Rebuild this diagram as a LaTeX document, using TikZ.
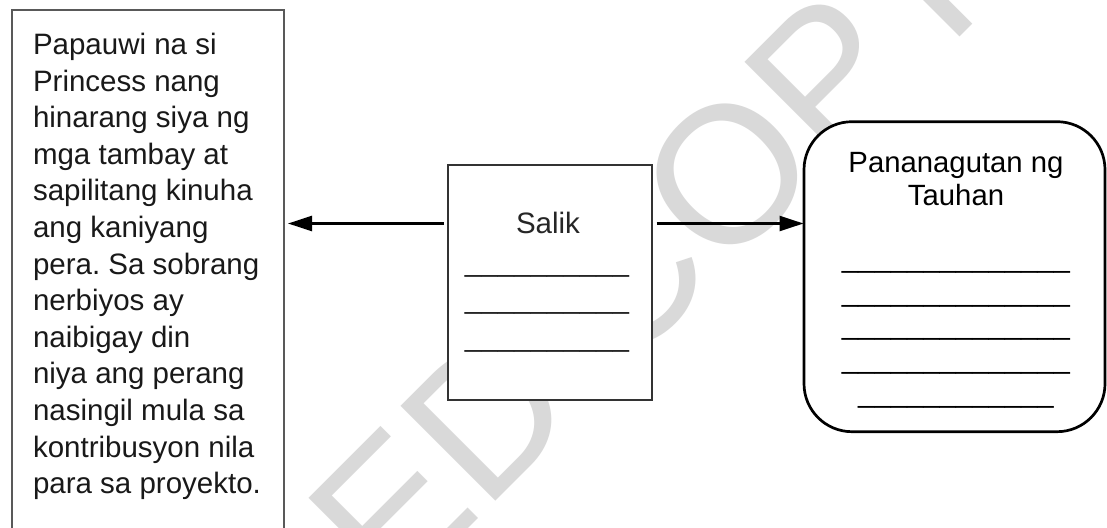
\documentclass[tikz,border=0pt]{standalone}
\usepackage{fontspec}
\setmainfont{Liberation Sans}
\usetikzlibrary{arrows.meta}
\frenchspacing
\begin{document}
\begin{tikzpicture}[x=1pt,y=-1pt,
  txt/.style={font=\fontsize{29.5}{36.6}\selectfont, inner sep=0pt, outer sep=0pt},
  wm/.style={font=\fontsize{195}{195}\selectfont, text=black!15, inner sep=0pt},
  boxstyle/.style={fill=white, inner sep=0pt, outer sep=0pt, anchor=north west},
  arr/.style={line width=2.5pt, -{Triangle[length=24pt,width=15pt]}},
]
\useasboundingbox (0,0) rectangle (1107,527);
\clip (0,0) rectangle (1107,527);
\fill[white] (0,0) rectangle (1107,527);
% watermark
\node[wm, anchor=base west, rotate=45] (wm) at (108.5,888.5) {DEPED COPY};
% left box
\node[boxstyle, draw=black!65, line width=2.7pt, minimum width=272pt, minimum height=560pt] (story) at (12,10) {};
\node[txt, align=left, anchor=north west, text=black!90] (storytext) at (33,33.2)
  {Papauwi na si\\Princess nang\\hinarang siya ng\\mga tambay at\\sapilitang kinuha\\ang kaniyang\\pera. Sa sobrang\\nerbiyos ay\\naibigay din\\niya ang perang\\nasingil mula sa\\kontribusyon nila\\para sa proyekto.};
% middle box
\node[boxstyle, draw=black!80, line width=2.3pt, minimum width=204pt, minimum height=235pt] (salik) at (448,165) {};
\node[txt, anchor=base, text=black!85] (saliklabel) at (548,233.3) {Salik};
\node[txt, font=\fontsize{29.5}{37.5}\selectfont, align=center, anchor=north, text=black!85] (saliklines) at (547,271.3)
  {\_\_\_\_\_\_\_\_\_\_\\\_\_\_\_\_\_\_\_\_\_\\\_\_\_\_\_\_\_\_\_\_};
% right box
\node[boxstyle, draw=black, line width=2.7pt, rounded corners=48pt, minimum width=301pt, minimum height=310pt] (resp) at (804,121.7) {};
\node[txt, font=\fontsize{29.3}{32.7}\selectfont, align=center, anchor=north] (resptitle) at (956,152.3) {Pananagutan ng\\Tauhan};
\node[txt, font=\fontsize{29.3}{33.7}\selectfont, align=center, anchor=north] (resplines) at (956,267.3)
  {\_\_\_\_\_\_\_\_\_\_\_\_\_\_\\\_\_\_\_\_\_\_\_\_\_\_\_\_\_\\\_\_\_\_\_\_\_\_\_\_\_\_\_\_\\\_\_\_\_\_\_\_\_\_\_\_\_\_\_\\\_\_\_\_\_\_\_\_\_\_\_\_};
% connectors
\coordinate (ay) at (0,223.5);
\draw[arr, shorten <=4pt, shorten >=4pt] (salik.west |- ay) -- (story.east |- ay);
\draw[arr, shorten <=4.7pt, shorten >=0.5pt] (salik.east |- ay) -- (resp.west |- ay);
\end{tikzpicture}
\end{document}
